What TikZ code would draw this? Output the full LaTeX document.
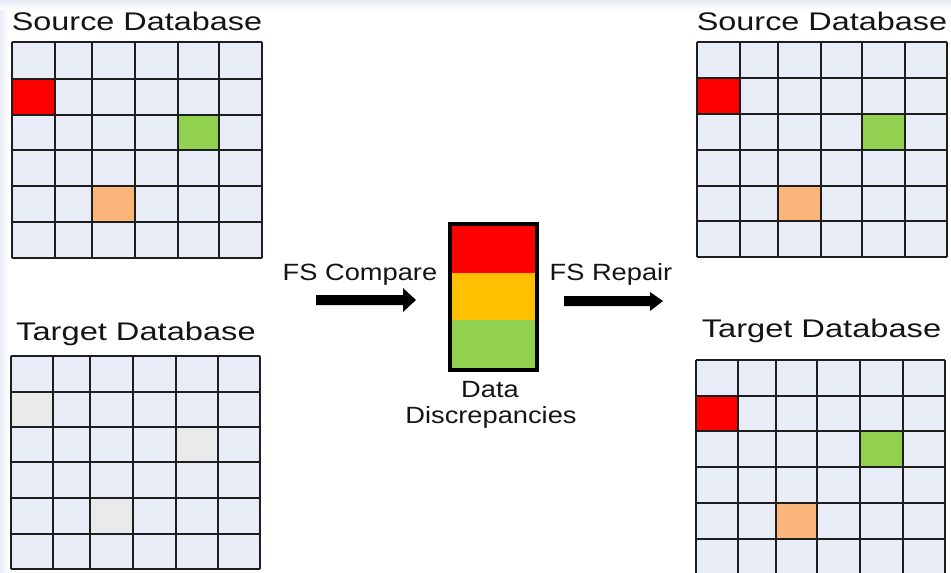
\documentclass[tikz,border=0pt]{standalone}
\usepackage{fontspec}
\setmainfont{Liberation Sans}
\usepackage{graphicx}
\definecolor{cellbg}{HTML}{E8ECF6}
\definecolor{cellgrey}{HTML}{E8EBE9}
\definecolor{gridline}{HTML}{1E1E1E}
\definecolor{dred}{HTML}{FF0000}
\definecolor{dgreen}{HTML}{92D050}
\definecolor{dorange}{HTML}{FAB67A}
\definecolor{dyellow}{HTML}{FFC000}
\definecolor{bgtint}{HTML}{E8EDF5}
\tikzset{
  titletext/.style={anchor=base, inner sep=0pt, font=\fontsize{25.5}{28}\selectfont, text=black!92},
  midtext/.style={anchor=base, inner sep=0pt, font=\fontsize{23.5}{26}\selectfont, text=black!92},
  gridstroke/.style={draw=gridline, line width=1.9pt},
  blockarrow/.style={fill=black},
}
\newcommand{\wtxt}[2]{\scalebox{#1}[1]{#2}}
% #1 x-list, #2 y-list, #3 coloured cells col/row/colour, #4 node name
\newcommand{\drawdb}[4]{%
  \def\xs{#1}\def\ys{#2}%
  \foreach \x [count=\i] in \xs {\expandafter\xdef\csname X\i\endcsname{\x}}%
  \foreach \y [count=\j] in \ys {\expandafter\xdef\csname Y\j\endcsname{\y}}%
  \fill[cellbg] (\csname X1\endcsname,\csname Y1\endcsname) rectangle (\csname X7\endcsname,\csname Y7\endcsname);
  \foreach \c/\r/\col in {#3} {%
    \pgfmathtruncatemacro{\cc}{\c+1}\pgfmathtruncatemacro{\cn}{\c+2}%
    \pgfmathtruncatemacro{\rr}{\r+1}\pgfmathtruncatemacro{\rn}{\r+2}%
    \fill[\col] (\csname X\cc\endcsname,\csname Y\rr\endcsname) rectangle (\csname X\cn\endcsname,\csname Y\rn\endcsname);
  }
  \foreach \x in \xs {\draw[gridstroke] (\x,\csname Y1\endcsname) -- (\x,\csname Y7\endcsname);}
  \foreach \y in \ys {\draw[gridstroke] (\csname X1\endcsname,\y) -- (\csname X7\endcsname,\y);}
  \node[inner sep=0pt] (#4) at ({(\csname X1\endcsname+\csname X7\endcsname)/2},{(\csname Y1\endcsname+\csname Y7\endcsname)/2}) {};
}
\begin{document}
\begin{tikzpicture}[x=1pt,y=-1pt]
\useasboundingbox (0,0) rectangle (951,573);
\clip (0,0) rectangle (951,573);
\shade[top color=bgtint, bottom color=white] (0,0) rectangle (951,10);
\shade[left color=bgtint, right color=white] (0,10) rectangle (8,573);

% ---------- grids ----------
\drawdb{12,55,92,135,178,219,262}{42,79,115,150,186,222,258}{0/1/dred,4/2/dgreen,2/4/dorange}{srcL}
\drawdb{11,53,90,133,176,218,260}{356,392,427,462,498,534,569}{0/1/cellgrey,4/2/cellgrey,2/4/cellgrey}{tgtL}
\drawdb{697,740,778,821,862,905,947}{42,78,114,150,186,221,257}{0/1/dred,4/2/dgreen,2/4/dorange}{srcR}
\drawdb{696,738,776,817,860,903,945}{360,396,431,467,503,539,576}{0/1/dred,4/2/dgreen,2/4/dorange}{tgtR}

% ---------- titles ----------
\node[titletext] (tSrcL) at (137,30) {\wtxt{1.27}{Source Database}};
\node[titletext] (tTgtL) at (136,340) {\wtxt{1.28}{Target Database}};
\node[titletext] (tSrcR) at (822,30) {\wtxt{1.27}{Source Database}};
\node[titletext] (tTgtR) at (821.5,337) {\wtxt{1.28}{Target Database}};

% ---------- discrepancy bar ----------
\fill[dred] (450,224) rectangle (537,273);
\fill[dyellow] (450,273) rectangle (537,320);
\fill[dgreen] (450,320) rectangle (537,370);
\draw[black, line width=3.5pt] (450,224) rectangle (537,370);
\node[inner sep=0pt, minimum width=87pt, minimum height=146pt] (bar) at (493.5,297) {};

\node[midtext] (lblData) at (490,397) {\wtxt{1.16}{Data}};
\node[midtext] (lblDisc) at (491,423) {\wtxt{1.16}{Discrepancies}};

% ---------- arrows ----------
\node[midtext] (lblCmp) at (360,280) {\wtxt{1.16}{FS Compare}};
\node[midtext] (lblRep) at (611,280) {\wtxt{1.16}{FS Repair}};
\fill[blockarrow] (316,295) -- (403,295) -- (403,288) -- (416,300) -- (403,312) -- (403,305) -- (316,305) -- cycle;
\fill[blockarrow] (564,296) -- (650,296) -- (650,292) -- (663,301) -- (650,311) -- (650,306) -- (564,306) -- cycle;
\end{tikzpicture}
\end{document}
